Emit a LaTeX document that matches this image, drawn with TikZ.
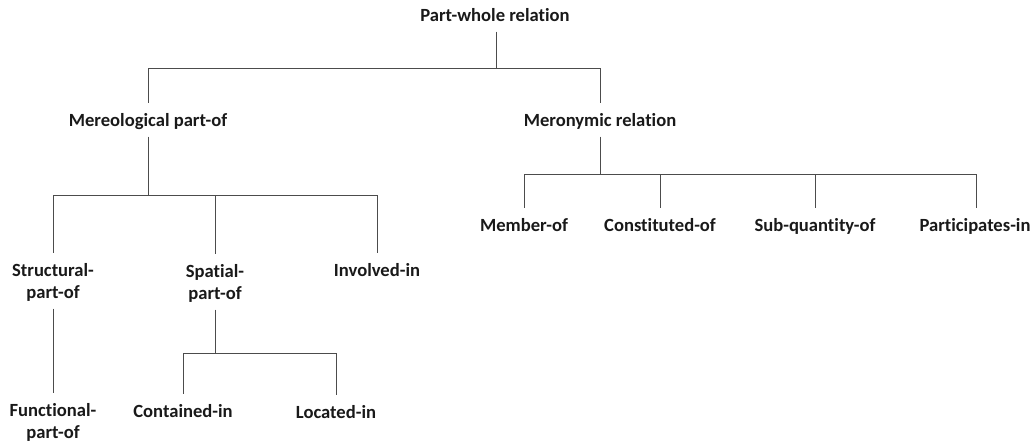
\documentclass[tikz,border=0pt]{standalone}
\usepackage{fontspec}
\setmainfont{Carlito}[Ligatures=CommonOff]
\begin{document}
\begin{tikzpicture}[x=1pt,y=-1pt,
  lbl/.style={font=\fontsize{18.6}{22}\selectfont\bfseries, text=black!90, inner xsep=2pt, inner ysep=10.5pt, text height=12pt, text depth=0pt},
  lbltwo/.style={lbl, align=center, text height=34pt, text depth=0pt},
  conn/.style={draw=black!70, line width=1pt}]
\useasboundingbox (0,0) rectangle (1034,442);
% nodes
\node[lbl] (root) at (495,15) {Part-whole relation};
\node[lbl] (mer) at (148,120) {Mereological part-of};
\node[lbl] (mero) at (600,120) {Meronymic relation};
\node[lbltwo] (str) at (53,281) {Structural-\\part-of};
\node[lbltwo] (spa) at (215,282) {Spatial-\\part-of};
\node[lbl] (inv) at (377,270) {Involved-in};
\node[lbl] (mem) at (524,225) {Member-of};
\node[lbl] (con) at (660,225) {Constituted-of};
\node[lbl] (sub) at (815,225) {Sub-quantity-of};
\node[lbl] (par) at (975,225) {Participates-in};
\node[lbltwo] (fun) at (53,421) {Functional-\\part-of};
\node[lbl] (cont) at (183,411) {Contained-in};
\node[lbl] (loc) at (336,412) {Located-in};
% bus coordinates
\coordinate (b0) at (496,68);
\coordinate (b1) at (148,195);
\coordinate (b2) at (600,174);
\coordinate (b3) at (215,353);
% connectors
\draw[conn] (root.south -| b0) -- (b0);
\draw[conn] (b0) -| (mer.north);
\draw[conn] (b0) -| (mero.north);
\draw[conn] (mer.south) -- (b1);
\draw[conn] (b1) -| (str.north);
\draw[conn] (b1) -| (spa.north);
\draw[conn] (b1) -| (inv.north);
\draw[conn] (mero.south) -- (b2);
\draw[conn] (b2) -| (mem.north);
\draw[conn] (b2) -| (con.north);
\draw[conn] (b2) -| (sub.north);
\draw[conn] (b2) -| (par.north -| 976,0);
\draw[conn] (str.south) -- (fun.north);
\draw[conn] (spa.south) -- (b3);
\draw[conn] (b3) -| (cont.north);
\draw[conn] (b3) -| (loc.north);
\end{tikzpicture}
\end{document}
